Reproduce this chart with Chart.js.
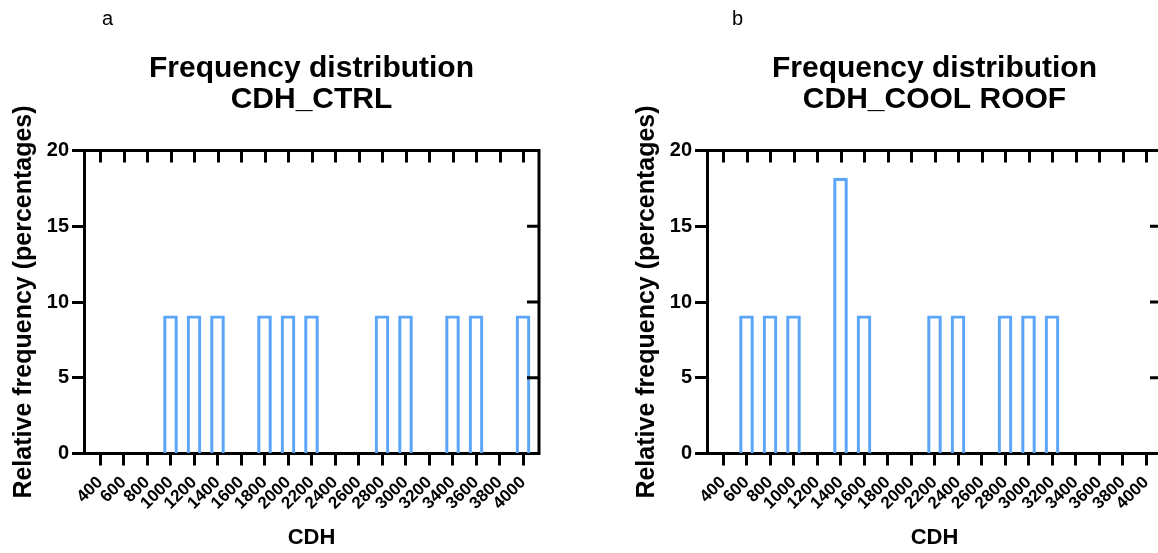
<!DOCTYPE html>
<html><head><meta charset="utf-8">
<script src="https://cdn.jsdelivr.net/npm/chart.js@4.4.1/dist/chart.umd.min.js"></script>
<style>
html,body{margin:0;padding:0;background:#fff;overflow:hidden;width:1158px;height:553px;}
#wrap{position:relative;width:1158px;height:553px;overflow:hidden;background:#fff;}
canvas{position:absolute;top:0;}
.panel{position:absolute;top:8px;font:20px 'Liberation Sans',Arial,sans-serif;line-height:20px;color:#000;}
</style></head><body>
<div id="wrap">
<canvas id="c2" width="664" height="553" style="left:623px"></canvas>
<canvas id="c1" width="664" height="553" style="left:0"></canvas>
<div class="panel" style="left:102px">a</div>
<div class="panel" style="left:732px">b</div>
</div>
<script>
// ---- data ----
const cdhTicks = [400,600,800,1000,1200,1400,1600,1800,2000,2200,2400,2600,2800,3000,3200,3400,3600,3800,4000];
const ctrlBins = [1000,1200,1400,1800,2000,2200,2800,3000,3400,3600,4000];
const ctrlFreq = [9.09,9.09,9.09,9.09,9.09,9.09,9.09,9.09,9.09,9.09,9.09];
const coolBins = [600,800,1000,1400,1600,2200,2400,2800,3000,3200];
const coolFreq = [9.09,9.09,9.09,18.18,9.09,9.09,9.09,9.09,9.09,9.09];
const yTicks = [0,5,10,15,20];
const titleCtrl = ['Frequency distribution','CDH_CTRL'];
const titleCool = ['Frequency distribution','CDH_COOL ROOF'];
const xTitle = 'CDH';
const yTitle = 'Relative frequency (percentages)';

const FONT = "'Liberation Sans', Arial, sans-serif";
const BAR = '#5ba6f8';
const LW = 3;

const frame = {
  id: 'frame',
  afterDraw(chart) {
    const {ctx, chartArea: a, scales: {x, y}} = chart;
    ctx.save();
    ctx.strokeStyle = '#000';
    ctx.lineWidth = LW;
    ctx.lineCap = 'butt';
    ctx.beginPath();
    ctx.moveTo(a.left, a.top); ctx.lineTo(a.right + LW/2, a.top);
    ctx.moveTo(a.right, a.top); ctx.lineTo(a.right, a.bottom + LW/2);
    x.ticks.forEach(t => {
      const px = Math.round(x.getPixelForValue(t.value)) + 0.5;
      ctx.moveTo(px, a.top); ctx.lineTo(px, a.top + 12);
    });
    y.ticks.forEach(t => {
      if (t.value > 0 && t.value < 20) {
        const py = y.getPixelForValue(t.value);
        ctx.moveTo(a.right, py); ctx.lineTo(a.right - 12, py);
      }
    });
    ctx.stroke();
    ctx.restore();
  }
};

function makeChart(id, bins, freq, title) {
  const pad = 200 * 16 / 23.5;
  return new Chart(document.getElementById(id), {
    type: 'bar',
    data: {
      datasets: [{
        data: bins.map((b, i) => ({x: b, y: freq[i]})),
        backgroundColor: 'rgba(255,255,255,0)',
        borderColor: BAR,
        borderWidth: 2.5,
        borderSkipped: 'start',
        barThickness: 14
      }]
    },
    options: {
      responsive: false,
      animation: false,
      layout: {padding: {left: 0, right: 41, top: 0, bottom: 0}},
      plugins: {
        legend: {display: false},
        tooltip: {enabled: false},
        title: {
          display: true,
          text: title,
          color: '#000',
          font: {family: FONT, size: 30, weight: 'bold', lineHeight: 31/30},
          padding: {top: 53.4, bottom: 35.1}
        }
      },
      scales: {
        x: {
          type: 'linear',
          min: cdhTicks[0] - pad,
          max: cdhTicks[cdhTicks.length - 1] + pad,
          offset: false,
          afterBuildTicks: s => { s.ticks = cdhTicks.map(v => ({value: v})); },
          afterFit: s => { s.height = 99.5; },
          grid: {display: true, drawOnChartArea: false, drawTicks: true, tickLength: 12, tickWidth: LW, tickColor: '#000', offset: false},
          border: {display: true, width: LW, color: '#000'},
          ticks: {
            color: '#000', font: {family: FONT, size: 17, weight: 'bold'},
            autoSkip: false, maxRotation: 45, minRotation: 45, padding: 7,
            callback: v => String(v)
          },
          title: {display: true, text: xTitle, color: '#000', font: {family: FONT, size: 22, weight: 'bold'}, padding: {top: 0, bottom: 2.3}}
        },
        y: {
          min: 0, max: 20,
          afterBuildTicks: s => { s.ticks = yTicks.map(v => ({value: v})); },
          afterFit: s => { s.width = 84; },
          grid: {display: true, drawOnChartArea: false, drawTicks: true, tickLength: 12, tickWidth: LW, tickColor: '#000'},
          border: {display: true, width: LW, color: '#000'},
          ticks: {color: '#000', font: {family: FONT, size: 20, weight: 'bold'}, padding: 3},
          title: {display: true, text: yTitle, color: '#000', font: {family: FONT, size: 25, weight: 'bold'}, padding: {top: 9.6, bottom: 0}}
        },
        yRight: {
          position: 'right',
          min: 0, max: 20,
          afterFit: s => { s.width = 84; },
          grid: {display: false},
          border: {display: false},
          ticks: {display: false}
        }
      }
    },
    plugins: [frame]
  });
}

makeChart('c1', ctrlBins, ctrlFreq, titleCtrl);
makeChart('c2', coolBins, coolFreq, titleCool);
</script>
</body></html>
